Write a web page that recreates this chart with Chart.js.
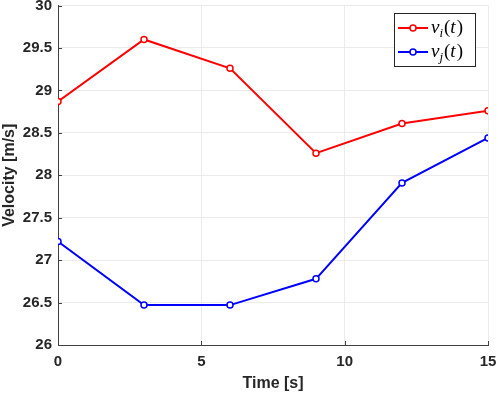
<!DOCTYPE html>
<html>
<head>
<meta charset="utf-8">
<script src="https://cdn.jsdelivr.net/npm/chart.js@4.4.1/dist/chart.umd.min.js"></script>
<style>
  html, body { margin: 0; padding: 0; background: #fff; }
  #wrap { width: 498px; height: 393px; }
</style>
</head>
<body>
<div id="wrap"><canvas id="lineChart" width="498" height="393"></canvas></div>
<script>
// data
const times = [0, 3, 6, 9, 12, 15];
const vi = [28.87, 29.60, 29.26, 28.26, 28.61, 28.76];
const vj = [27.22, 26.47, 26.47, 26.78, 27.91, 28.44];
const yTicks = [26, 26.5, 27, 27.5, 28, 28.5, 29, 29.5, 30];
const xTicks = [0, 5, 10, 15];

const axisColor = "#404040";
const gridColor = "#ebebeb";
const tickFont = { family: "'Liberation Sans', Arial, sans-serif", size: 15, weight: "bold" };
const titleFont = { family: "'Liberation Sans', Arial, sans-serif", size: 16, weight: "bold" };

function toPoints(ys) {
  return times.map((t, i) => ({ x: t, y: ys[i] }));
}

// small inside tick marks like the original plot
const innerTicks = {
  id: "innerTicks",
  afterDatasetsDraw(chart) {
    const { ctx, chartArea, scales } = chart;
    ctx.save();
    ctx.strokeStyle = axisColor;
    ctx.lineWidth = 1;
    xTicks.forEach((v) => {
      const px = Math.round(scales.x.getPixelForValue(v)) + 0.5;
      ctx.beginPath();
      ctx.moveTo(px, chartArea.bottom);
      ctx.lineTo(px, chartArea.bottom - 4);
      ctx.stroke();
    });
    yTicks.forEach((v) => {
      const py = Math.round(scales.y.getPixelForValue(v)) + 0.5;
      ctx.beginPath();
      ctx.moveTo(chartArea.left, py);
      ctx.lineTo(chartArea.left + 4, py);
      ctx.stroke();
    });
    ctx.restore();
  },
};

// legend box with math style labels
const mathLegend = {
  id: "mathLegend",
  afterDraw(chart) {
    const ctx = chart.ctx;
    const bx = 394.5, by = 13.5, bw = 81, bh = 53;
    ctx.save();
    ctx.fillStyle = "#fff";
    ctx.fillRect(bx, by, bw, bh);
    ctx.strokeStyle = "#262626";
    ctx.lineWidth = 1;
    ctx.strokeRect(bx, by, bw, bh);

    const rows = [
      { ds: chart.data.datasets[0], sub: "i", y: 28 },
      { ds: chart.data.datasets[1], sub: "j", y: 52 },
    ];
    rows.forEach((r) => {
      ctx.strokeStyle = r.ds.borderColor;
      ctx.lineWidth = 2;
      ctx.beginPath();
      ctx.moveTo(398, r.y);
      ctx.lineTo(428, r.y);
      ctx.stroke();
      ctx.fillStyle = "#fff";
      ctx.lineWidth = 1.5;
      ctx.beginPath();
      ctx.arc(413, r.y, 3, 0, Math.PI * 2);
      ctx.fill();
      ctx.stroke();

      ctx.fillStyle = "#000";
      ctx.textBaseline = "alphabetic";
      let x = 431;
      const base = r.y + 5;
      ctx.font = "italic 19px 'Liberation Serif', serif";
      ctx.fillText("v", x, base);
      x += ctx.measureText("v").width;
      ctx.font = "italic 13px 'Liberation Serif', serif";
      ctx.fillText(r.sub, x, base + 4);
      x += ctx.measureText(r.sub).width + 1;
      ctx.font = "19px 'Liberation Serif', serif";
      ctx.fillText("(", x, base);
      x += ctx.measureText("(").width;
      ctx.font = "italic 19px 'Liberation Serif', serif";
      ctx.fillText("t", x, base);
      x += ctx.measureText("t").width + 1;
      ctx.font = "19px 'Liberation Serif', serif";
      ctx.fillText(")", x, base);
    });
    ctx.restore();
  },
};

const ctx = document.getElementById("lineChart").getContext("2d");
const myChart = new Chart(ctx, {
  type: "line",
  data: {
    datasets: [
      {
        label: "v_i(t)",
        data: toPoints(vi),
        borderColor: "#ff0000",
        backgroundColor: "#ffffff",
        borderWidth: 2,
        pointRadius: 3,
        pointBorderWidth: 1.5,
        pointBackgroundColor: "#ffffff",
        tension: 0,
      },
      {
        label: "v_j(t)",
        data: toPoints(vj),
        borderColor: "#0000ff",
        backgroundColor: "#ffffff",
        borderWidth: 2,
        pointRadius: 3,
        pointBorderWidth: 1.5,
        pointBackgroundColor: "#ffffff",
        tension: 0,
      },
    ],
  },
  options: {
    responsive: false,
    animation: false,
    layout: { padding: { top: 5, right: 10, left: 0, bottom: 0 } },
    scales: {
      x: {
        type: "linear",
        min: 0,
        max: 15,
        afterBuildTicks: (scale) => {
          scale.ticks = xTicks.map((v) => ({ value: v }));
        },
        afterFit: (scale) => {
          scale.height = 48;
          scale.paddingLeft = 0;
          scale.paddingRight = 0;
        },
        grid: { color: gridColor, drawTicks: false },
        border: { display: true, color: axisColor, width: 1 },
        ticks: { font: tickFont, color: "#262626", padding: 8, maxRotation: 0 },
        title: { display: true, text: "Time [s]", font: titleFont, color: "#262626", padding: 0 },
      },
      y: {
        min: 26,
        max: 30,
        afterBuildTicks: (scale) => {
          scale.ticks = yTicks.map((v) => ({ value: v }));
        },
        afterFit: (scale) => {
          scale.width = 58;
          scale.paddingTop = 0;
          scale.paddingBottom = 0;
        },
        grid: { color: gridColor, drawTicks: false },
        border: { display: true, color: axisColor, width: 1 },
        ticks: {
          font: tickFont,
          color: "#262626",
          padding: 6,
          callback: (value) => String(value),
        },
        title: { display: true, text: "Velocity [m/s]", font: titleFont, color: "#262626", padding: 0 },
      },
    },
    plugins: {
      legend: { display: false },
      tooltip: { enabled: false },
    },
  },
  plugins: [innerTicks, mathLegend],
});
</script>
</body>
</html>
